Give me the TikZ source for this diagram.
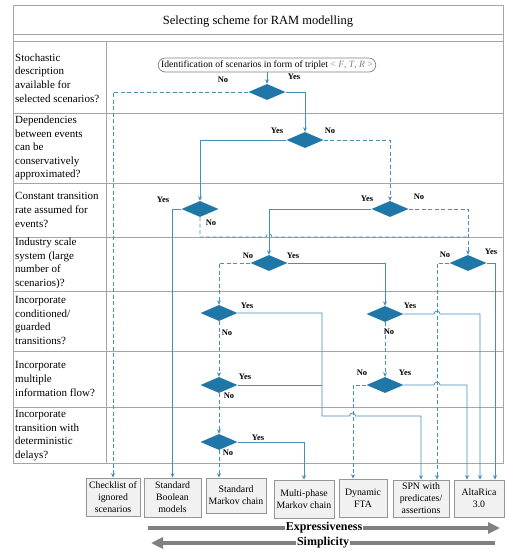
\documentclass[tikz,border=0pt]{standalone}
\usepackage{fontspec}
\setmainfont{Liberation Serif}
\usetikzlibrary{shapes.geometric,arrows.meta}
\definecolor{dfill}{RGB}{31,119,168}
\definecolor{lc}{RGB}{72,142,186}
\definecolor{gridc}{RGB}{165,165,165}
\definecolor{bfill}{RGB}{241,241,241}
\definecolor{bdraw}{RGB}{150,150,150}
\definecolor{garr}{RGB}{128,128,128}
\begin{document}
\begin{tikzpicture}[x=1pt,y=-1pt,
  dia/.style={diamond,fill=dfill,draw=none,minimum width=37pt,minimum height=16pt,inner sep=0pt},
  yl/.style={font=\fontsize{8.5}{9}\selectfont\bfseries,inner sep=0pt},
  sl/.style={draw=lc,line width=0.8pt,-{Stealth[length=4.5pt,width=4pt]}},
  sln/.style={draw=lc,line width=0.8pt},
  dl/.style={sl,dash pattern=on 4pt off 2.5pt},
  dln/.style={sln,dash pattern=on 4pt off 2.5pt},
  gridl/.style={draw=gridc,line width=1pt},
  qtext/.style={anchor=west,align=left,inner sep=0pt,font=\fontsize{11}{13.6}\selectfont},
  outbox/.style={draw=bdraw,fill=bfill,line width=0.8pt,align=center,inner sep=1pt,font=\fontsize{9.8}{12}\selectfont},
  bigarr/.style={draw=garr,line width=3.5pt,-{Triangle[length=12pt,width=11pt]}},
  atext/.style={fill=white,inner sep=1pt,font=\fontsize{12}{14}\selectfont\bfseries}
]
\useasboundingbox (0,0) rectangle (508,551);
% frame
\draw[gridl] (13,6) rectangle (503,463);
\draw[gridl] (13,35) -- (503,35);
\draw[gridl] (13,42) -- (503,42);
\draw[gridl] (106,42) -- (106,463);
\foreach \yy in {113,183,237,291,351,407} \draw[gridl] (13,\yy) -- (503,\yy);
\node[font=\fontsize{12.5}{14}\selectfont] (title) at (258,21) {Selecting scheme for RAM modelling};
% questions
\node[qtext] (q1) at (15,78) {Stochastic\\description\\available for\\selected scenarios?};
\node[qtext] (q2) at (15,148) {Dependencies\\between events\\can be\\conservatively\\approximated?};
\node[qtext] (q3) at (15,210) {Constant transition\\rate assumed for\\events?};
\node[qtext] (q4) at (15,263.5) {Industry scale\\system (large\\number of\\scenarios)?};
\node[qtext] (q5) at (15,320.5) {Incorporate\\conditioned/\\guarded\\transitions?};
\node[qtext] (q6) at (15,379) {Incorporate\\multiple\\information flow?};
\node[qtext] (q7) at (15,435.5) {Incorporate\\transition with\\deterministic\\delays?};
% start
\node[draw=gray,rounded corners=7pt,line width=0.7pt,inner xsep=3pt,minimum height=14pt,inner ysep=1pt,font=\fontsize{9.6}{11}\selectfont] (st) at (267,65)
  {Identification of scenarios in form of triplet {\color{gray}\textless{} \textit{F}, \textit{T}, \textit{R} \textgreater}};
% diamonds
\node[dia] (d1) at (267,92) {};
\node[dia] (d2) at (305,140) {};
\node[dia] (d3) at (200,209) {};
\node[dia] (d4) at (390,209) {};
\node[dia] (d5) at (269,263) {};
\node[dia] (d6) at (468,263) {};
\node[dia] (d7) at (219,313) {};
\node[dia] (d8) at (385,314) {};
\node[dia] (d9) at (219,385) {};
\node[dia] (d10) at (385,385) {};
\node[dia] (d11) at (219,442) {};
% output boxes
\node[outbox,minimum width=54pt,minimum height=38pt] (chk) at (113,497) {Checklist of\\ignored\\scenarios};
\node[outbox,minimum width=57pt,minimum height=39pt] (bool) at (172.5,497.5) {Standard\\Boolean\\models};
\node[outbox,minimum width=60pt,minimum height=35pt] (smc) at (236,495.5) {Standard\\Markov chain};
\node[outbox,minimum width=60pt,minimum height=38pt] (mp) at (304,499) {Multi-phase\\Markov chain};
\node[outbox,minimum width=48pt,minimum height=38pt] (dyn) at (363,498) {Dynamic\\FTA};
\node[outbox,minimum width=56pt,minimum height=37pt] (spn) at (421,498.5) {SPN with\\predicates/\\assertions};
\node[outbox,minimum width=50pt,minimum height=37pt] (alt) at (479,498.5) {AltaRica\\3.0};
% connectors
\draw[sl] (st) -- (d1);
\draw[dl] (d1.west) -| (chk.north);
\draw[sl] (d1.east) -| (d2.north);
\draw[sl] (d2.west) -| (d3.north);
\draw[dl] (d2.east) -| (d4.north);
\draw[sl] (d3.west) -| (bool.north);
\draw[dln] (d3.south) -- (200,237) -- (266,237) arc[start angle=180,end angle=0,radius=3pt] -- (468,237);
\draw[dl] (d4.east) -| (d6.north);
\draw[sl] (d4.west) -| (d5.north);
\draw[dl] (d5.west) -| (d7.north);
\draw[sl] (d5.east) -| (d8.north);
\draw[dl] (d6.west) -| ([xshift=16pt]spn.north);
\draw[sl] (d6.east) -| ([xshift=16pt]alt.north);
\draw[sl] (d7.east) -- (322,313) -- (322,416) -- (349.5,416) arc[start angle=180,end angle=0,radius=3pt] -| (spn.north);
\draw[dl] (d7.south) -- (d9.north);
\draw[sl] (d8.east) -- (434,314) arc[start angle=180,end angle=0,radius=3pt] -| ([xshift=1pt]alt.north);
\draw[dl] (d8.south) -- (d10.north);
\draw[sln] (d9.east) -- (322,385);
\draw[dl] (d9.south) -- (d11.north);
\draw[dl] (d10.west) -| ([xshift=-10pt]dyn.north);
\draw[sl] (d10.east) -- (434,385) arc[start angle=180,end angle=0,radius=3pt] -| ([xshift=-12pt]alt.north);
\draw[sl] (d11.east) -| (mp.north);
\draw[dl] (d11.south) -- (d11.south |- smc.north);
% labels
\node[yl] (l1n) at (223,80) {No};
\node[yl] (l1y) at (294,77) {Yes};
\node[yl] (l2y) at (277,131) {Yes};
\node[yl] (l2n) at (330,131) {No};
\node[yl] (l3y) at (163,200) {Yes};
\node[yl] (l3n) at (211,223) {No};
\node[yl] (l4y) at (367,199) {Yes};
\node[yl] (l4n) at (419,197) {No};
\node[yl] (l5n) at (248,256) {No};
\node[yl] (l5y) at (293,256) {Yes};
\node[yl] (l6n) at (445,255) {No};
\node[yl] (l6y) at (491,252) {Yes};
\node[yl] (l7y) at (247,306) {Yes};
\node[yl] (l7n) at (227,333) {No};
\node[yl] (l8y) at (410,306) {Yes};
\node[yl] (l8n) at (389,332) {No};
\node[yl] (l9y) at (245,377) {Yes};
\node[yl] (l9n) at (229,396) {No};
\node[yl] (l10n) at (362,373) {No};
\node[yl] (l10y) at (405,373) {Yes};
\node[yl] (l11y) at (258,438) {Yes};
\node[yl] (l11n) at (228,453) {No};
% bottom arrows
\coordinate (e1) at (148,528);
\coordinate (e2) at (500,528);
\coordinate (s1) at (495,543);
\coordinate (s2) at (151,543);
\draw[bigarr] (e1) -- (e2) node[atext,midway] (ex) {Expressiveness};
\draw[bigarr] (s1) -- (s2) node[atext,midway] (si) {Simplicity};
\end{tikzpicture}
\end{document}
